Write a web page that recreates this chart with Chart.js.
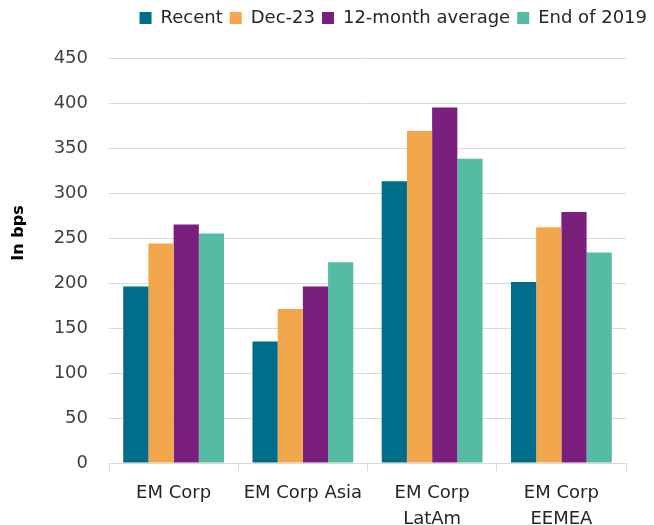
<!DOCTYPE html>
<html>
<head>
<meta charset="utf-8">
<script src="https://cdn.jsdelivr.net/npm/chart.js@4.4.1/dist/chart.umd.min.js"></script>
<style>
  html, body { margin: 0; padding: 0; background: #fff; }
  #wrap { width: 654px; height: 525px; }
</style>
</head>
<body>
<div id="wrap"><canvas id="myChart" width="654" height="525"></canvas></div>
<script>
// categories (multi-line labels)
var categories = [["EM Corp"], ["EM Corp Asia"], ["EM Corp", "LatAm"], ["EM Corp", "EEMEA"]];
// series values, in bps
var recent = [196, 135, 313, 201];
var dec23 = [244, 171, 369, 262];
var avg12m = [265, 196, 395, 279];
var end2019 = [255, 223, 338, 234];
var yTicks = [0, 50, 100, 150, 200, 250, 300, 350, 400, 450];

var fontFamily = "'DejaVu Sans', sans-serif";

// extra room under the legend
var legendMargin = {
	id: 'legendMargin',
	beforeInit: function(chart) {
		var fit = chart.legend.fit;
		chart.legend.fit = function() {
			fit.bind(chart.legend)();
			this.height += 21;
		};
	}
};

// y axis title, drawn a bit above the middle like the original
var yTitle = {
	id: 'yTitle',
	afterDraw: function(chart) {
		var c = chart.ctx;
		c.save();
		c.translate(19, 233);
		c.rotate(-Math.PI / 2);
		c.font = "bold 16px " + fontFamily;
		c.fillStyle = '#000';
		c.textAlign = 'center';
		c.textBaseline = 'middle';
		c.fillText('In bps', 0, 0);
		c.restore();
	}
};

function setup() {
	var ctx = document.getElementById('myChart').getContext('2d');
	var chart = new Chart(ctx, {
		type: 'bar',
		data: {
			labels: categories,
			datasets: [
				{ label: "Recent", backgroundColor: '#006E8A', data: recent },
				{ label: "Dec-23", backgroundColor: '#F2A74C', data: dec23 },
				{ label: "12-month average", backgroundColor: '#7A1F7E', data: avg12m },
				{ label: "End of 2019", backgroundColor: '#55BCA3', data: end2019 }
			]
		},
		options: {
			responsive: false,
			animation: false,
			layout: { padding: { left: 0, right: 0, top: 2, bottom: 0 } },
			datasets: { bar: { categoryPercentage: 0.78, barPercentage: 1.0, borderWidth: 0 } },
			plugins: {
				tooltip: { enabled: false },
				legend: {
					position: 'top',
					align: 'end',
					labels: {
						boxWidth: 12,
						boxHeight: 12,
						padding: 7,
						color: '#262626',
						font: { family: fontFamily, size: 18 }
					}
				}
			},
			scales: {
				x: {
					grid: { display: true, drawOnChartArea: false, color: '#d9d9d9', tickLength: 8 },
					border: { color: '#d9d9d9' },
					ticks: { color: '#262626', font: { family: fontFamily, size: 18, lineHeight: 1.45 }, padding: 9, maxRotation: 0 },
					afterFit: function(scale) { scale.height = 62; }
				},
				y: {
					min: 0,
					max: 450,
					afterBuildTicks: function(axis) {
						axis.ticks = yTicks.map(function(v) { return { value: v }; });
					},
					grid: { color: '#d9d9d9', drawTicks: false },
					border: { display: false },
					ticks: { color: '#404040', font: { family: fontFamily, size: 18 }, padding: 21 },
					afterFit: function(scale) { scale.width = 109; }
				},
				yRight: {
					position: 'right',
					display: true,
					grid: { display: false },
					border: { display: false },
					ticks: { display: false },
					afterFit: function(scale) { scale.width = 28; }
				}
			}
		},
		plugins: [legendMargin, yTitle]
	});
}
window.onload = setup;
</script>
</body>
</html>
